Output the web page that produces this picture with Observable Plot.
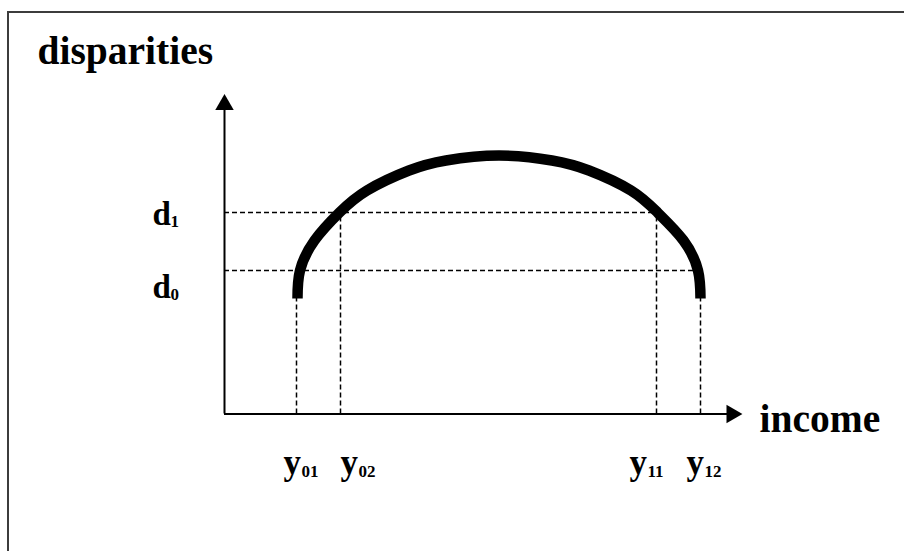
<!DOCTYPE html>
<html>
<head>
<meta charset="utf-8">
<script src="https://cdn.jsdelivr.net/npm/d3@7"></script>
<script src="https://cdn.jsdelivr.net/npm/@observablehq/plot@0.6"></script>
<style>
  html, body { margin: 0; padding: 0; background: #fff; }
  #wrap { position: relative; width: 904px; height: 551px; overflow: hidden; }
  #border { position: absolute; left: 7px; top: 11px; width: 1000px; height: 1000px;
            border-left: 2px solid #3c3c3c; border-top: 2px solid #3c3c3c; box-sizing: border-box; }
  #chart { position: absolute; left: 0; top: 0; }
</style>
</head>
<body>
<div id="wrap"><div id="border"></div><div id="chart"></div></div>
<script>
// ---- data (chart units) ----
const titleText = "disparities";
const incomeLabel = "income";
const incomeAxisEnd = 518;
const disparityAxisEnd = 320;

const incomeTicks = [72, 116, 432, 476];
const incomeTickNames = ["y01", "y02", "y11", "y12"];

const disparityTicks = [143.5, 201.5];
const disparityTickNames = ["d0", "d1"];

const curveIncome    = [73, 75.5, 90, 115, 142.5, 184.5, 221.5, 274.5, 327.5, 364.5, 406.5, 433, 459, 473.5, 476];
const curveDisparity = [115.5, 143.5, 173.5, 201.5, 223.5, 243.5, 253.5, 258.5, 253.5, 243.5, 223.5, 201.5, 173.5, 143.5, 115.5];

// ---- styling offsets (pixels) ----
const incomeLabelNudge = [-13, 0, -27, -14];
const disparityLabelNudge = [27, 12];

// ---- derived tables ----
const curve = curveIncome.map((x, i) => ({x, y: curveDisparity[i]}));
const curveBottom = curveDisparity[0];
const d1 = disparityTicks[1];
const verticalTop = [curveBottom, d1, d1, curveBottom];
const horizontalEnd = [incomeTicks[3], incomeTicks[2]];

const vRules = incomeTicks.map((x, i) => ({x, y1: 0, y2: verticalTop[i]}));
const hRules = disparityTicks.map((y, i) => ({y, x1: 0, x2: horizontalEnd[i]}));

const font = "'Liberation Serif', 'Times New Roman', serif";
const dash = {stroke: "#000", strokeWidth: 1.5, strokeDasharray: "5,3"};

const marks = [
  // dashed guides
  Plot.ruleX(vRules, {x: "x", y1: "y1", y2: "y2", ...dash}),
  Plot.ruleY(hRules, {y: "y", x1: "x1", x2: "x2", ...dash}),
  // axes
  Plot.ruleY([{y: 0}], {y: "y", x1: () => 0, x2: () => incomeAxisEnd - 6, stroke: "#000", strokeWidth: 2}),
  Plot.ruleX([{x: 0}], {x: "x", y1: () => 0, y2: () => disparityAxisEnd - 6, stroke: "#000", strokeWidth: 2}),
  Plot.dot([{x: 0, y: disparityAxisEnd}], {x: "x", y: "y", symbol: "triangle", r: 6.85, fill: "#000", stroke: "none", dy: 10.7}),
  Plot.dot([{x: incomeAxisEnd, y: 0}], {x: "x", y: "y", symbol: "triangle", r: 6.85, fill: "#000", stroke: "none", rotate: 90, dx: -10.7}),
  // curve
  Plot.line(curve, {x: "x", y: "y", curve: "natural", stroke: "#000", strokeWidth: 10.5, strokeLinecap: "butt", strokeLinejoin: "round"}),
  // title and axis label
  Plot.text([titleText], {frameAnchor: "top-left", text: d => d, dx: -187, dy: -30.5, textAnchor: "start", lineAnchor: "bottom",
    fontSize: 39.5, fontWeight: "bold", fontFamily: font, fill: "#000"}),
  Plot.text([incomeLabel], {x: () => incomeAxisEnd, y: () => 0, text: d => d, dx: 17, dy: 18, textAnchor: "start", lineAnchor: "bottom",
    fontSize: 39.5, fontWeight: "bold", fontFamily: font, fill: "#000"})
];

// income tick labels (main letter + subscript)
incomeTicks.forEach((x, i) => {
  const name = incomeTickNames[i];
  marks.push(Plot.text([name], {x: () => x, y: () => 0, text: d => d[0], dx: incomeLabelNudge[i], dy: 59.5,
    textAnchor: "start", lineAnchor: "bottom", fontSize: 35, fontWeight: "bold", fontFamily: font, fill: "#000"}));
  marks.push(Plot.text([name], {x: () => x, y: () => 0, text: d => d.slice(1), dx: incomeLabelNudge[i] + 18, dy: 63,
    textAnchor: "start", lineAnchor: "bottom", fontSize: 17, fontWeight: "bold", fontFamily: font, fill: "#000"}));
});

// disparity tick labels
disparityTicks.forEach((y, i) => {
  const name = disparityTickNames[i];
  marks.push(Plot.text([name], {x: () => 0, y: () => y, text: d => d[0], dx: -72, dy: disparityLabelNudge[i],
    textAnchor: "start", lineAnchor: "bottom", fontSize: 33, fontWeight: "bold", fontFamily: font, fill: "#000"}));
  marks.push(Plot.text([name], {x: () => 0, y: () => y, text: d => d.slice(1), dx: -54, dy: disparityLabelNudge[i] + 2,
    textAnchor: "start", lineAnchor: "bottom", fontSize: 17, fontWeight: "bold", fontFamily: font, fill: "#000"}));
});

const chart = Plot.plot({
  width: 904,
  height: 551,
  marginLeft: 224,
  marginRight: 160,
  marginTop: 93.5,
  marginBottom: 137.5,
  x: {domain: [0, 520], axis: null},
  y: {domain: [0, 320], axis: null},
  style: {background: "transparent", fontFamily: font},
  marks
});
document.getElementById("chart").appendChild(chart);
</script>
</body>
</html>
